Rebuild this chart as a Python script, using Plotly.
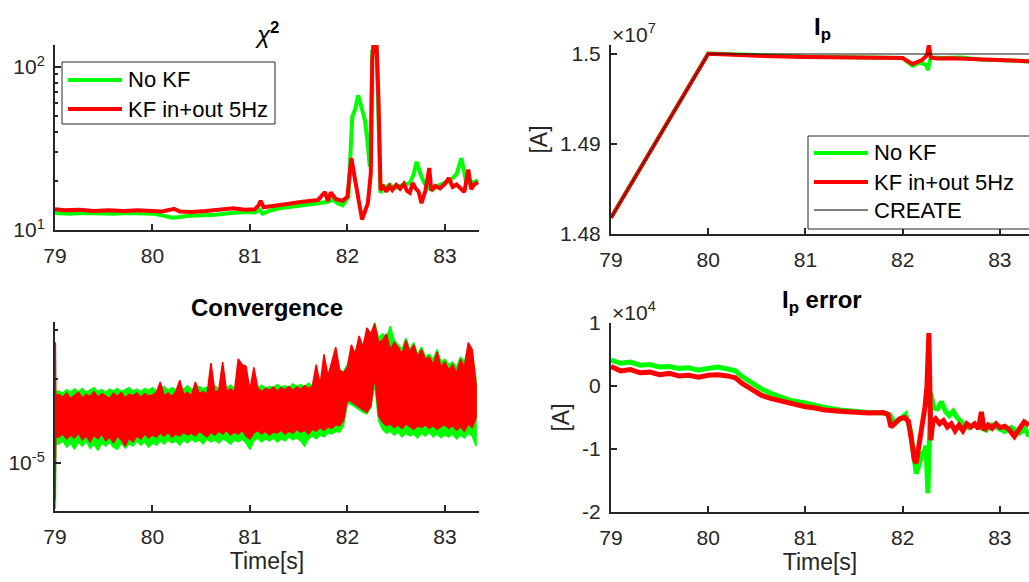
import numpy as np
import plotly.graph_objects as go

# ---------------- data ----------------
# chi^2 (top-left)
chi_t_nokf = [79.00, 79.15, 79.30, 79.45, 79.60, 79.75, 79.90, 80.00, 80.10, 80.20, 80.28, 80.35, 80.50,
              80.65, 80.80, 80.95, 81.05, 81.10, 81.13, 81.20, 81.30, 81.40, 81.50, 81.60, 81.70, 81.80,
              81.85, 81.90, 81.95, 82.01, 82.05, 82.08, 82.11, 82.15, 82.18, 82.21, 82.23, 82.245, 82.255,
              82.30, 82.33, 82.34, 82.37, 82.40, 82.44, 82.48, 82.53, 82.58, 82.64, 82.68, 82.71, 82.75,
              82.79, 82.83, 82.87, 82.92, 82.97, 83.03, 83.08, 83.12, 83.17, 83.20, 83.22, 83.26, 83.30, 83.34]
chi_nokf = [12.7, 12.6, 12.7, 12.6, 12.6, 12.7, 12.6, 12.6, 12.3, 11.9, 12.0, 12.2, 12.3,
            12.4, 12.7, 12.9, 12.8, 13.3, 12.6, 13.1, 13.6, 13.8, 14.0, 14.3, 14.6, 14.9,
            15.4, 14.6, 14.2, 16.0, 49.5, 55.0, 67.0, 55.0, 47.0, 33.0, 24.4, 60.0, 125.0,
            128.0, 30.0, 16.9, 18.6, 18.4, 18.9, 18.0, 18.6, 18.9, 19.4, 22.0, 26.2, 22.0,
            19.4, 18.2, 17.6, 18.6, 19.2, 19.8, 20.8, 22.0, 27.6, 22.0, 19.4, 19.8, 19.6, 20.2]
chi_t_kf = [79.00, 79.10, 79.25, 79.40, 79.55, 79.70, 79.85, 80.00, 80.10, 80.18, 80.22, 80.28, 80.40,
            80.55, 80.70, 80.83, 80.95, 81.05, 81.09, 81.11, 81.14, 81.20, 81.30, 81.40, 81.50, 81.60,
            81.70, 81.77, 81.80, 81.83, 81.88, 81.95, 82.00, 82.04, 82.07, 82.10, 82.15, 82.21, 82.24,
            82.255, 82.265, 82.30, 82.32, 82.34, 82.37, 82.40, 82.43, 82.46, 82.50, 82.54, 82.58, 82.61,
            82.64, 82.67, 82.70, 82.73, 82.76, 82.80, 82.84, 82.86, 82.90, 82.95, 83.00, 83.04, 83.08,
            83.12, 83.16, 83.20, 83.24, 83.27, 83.30, 83.34]
chi_kf = [13.4, 13.2, 13.3, 13.1, 13.2, 13.1, 13.2, 13.1, 13.0, 13.3, 13.5, 13.0, 12.9,
          13.1, 13.3, 13.6, 13.3, 13.4, 14.2, 15.1, 13.8, 14.0, 14.3, 14.5, 14.8, 15.0,
          15.3, 17.1, 15.1, 17.0, 15.5, 15.1, 16.0, 27.6, 22.0, 17.6, 11.6, 14.6, 22.3,
          110.0, 133.0, 133.0, 60.0, 17.6, 18.4, 17.2, 18.6, 17.6, 18.9, 17.9, 19.2, 17.4,
          16.9, 19.4, 18.0, 17.2, 14.6, 17.4, 24.0, 17.5, 18.6, 18.0, 19.2, 20.8, 18.4,
          19.0, 18.0, 17.1, 23.5, 17.8, 19.0, 19.6]

# Ip (top-right), in units of 1e7 A
ip_t_nokf = [79.00, 80.00, 80.10, 80.30, 80.50, 80.70, 81.00, 81.30, 81.60, 81.90, 82.00, 82.10,
             82.18, 82.24, 82.26, 82.28, 82.30, 82.40, 82.60, 82.80, 83.00, 83.20, 83.30]
ip_nokf = [1.4818, 1.50005, 1.50004, 1.49995, 1.49985, 1.49978, 1.49970, 1.49967, 1.49966, 1.49963,
           1.49955, 1.49870, 1.49905, 1.49880, 1.49822, 1.49930, 1.49960, 1.49955, 1.49960, 1.49940,
           1.49935, 1.49925, 1.49915]
ip_t_kf = [79.00, 80.00, 80.20, 80.50, 81.00, 81.50, 81.90, 82.00, 82.10, 82.20, 82.25, 82.27,
           82.29, 82.35, 82.50, 82.70, 82.90, 83.10, 83.30]
ip_kf = [1.4818, 1.50002, 1.49995, 1.49980, 1.49968, 1.49965, 1.49962, 1.49955, 1.49889, 1.49933,
         1.49985, 1.50100, 1.49960, 1.49950, 1.49952, 1.49945, 1.49935, 1.49930, 1.49920]
ip_t_create = [79.00, 80.00, 83.40]
ip_create = [1.4818, 1.5000, 1.5000]

# Convergence (bottom-left): upper / lower envelopes of the noisy traces, in units of 1e-5
conv_t = np.concatenate([[79.000, 79.004, 79.008], np.round(np.arange(79.04, 83.335, 0.04), 2)])
conv_nokf_hi = [1.80, 1.80, 1.80,
    1.81, 1.78, 1.83, 1.79, 1.84, 1.80, 1.85, 1.79, 1.82, 1.86, 1.80, 1.83, 1.79, 1.84, 1.81, 1.85, 1.80, 1.83,
    1.86, 1.81, 1.84, 1.80, 1.85, 1.82, 1.86, 1.81, 1.84, 1.88, 1.82, 1.86, 1.83, 1.87, 1.84, 1.89, 1.83, 1.86,
    1.88, 1.84, 1.87, 1.85, 1.89, 1.84, 1.88, 1.86, 1.90, 1.85, 1.88, 1.86, 1.89, 1.84, 1.88, 1.86, 1.90, 1.85,
    1.88, 1.86, 1.91, 1.87, 1.89, 1.86, 1.92, 1.88, 1.91, 1.87, 1.93, 1.89, 1.95, 1.93, 2.00, 1.97, 2.05, 2.10,
    2.15, 2.12, 2.25, 2.55, 2.50, 2.75, 2.65, 2.95, 2.85, 3.18, 2.80, 2.90, 2.80, 3.09, 2.75, 2.65, 2.55, 2.80,
    2.55, 2.70, 2.45, 2.60, 2.40, 2.45, 2.35, 2.55, 2.30, 2.35, 2.25, 2.30, 2.20, 2.40, 2.30, 2.60, 2.50, 2.00]
conv_nokf_lo = [0.69, 0.69, 1.17,
    1.17, 1.20, 1.14, 1.18, 1.12, 1.19, 1.15, 1.20, 1.13, 1.17, 1.11, 1.18, 1.15, 1.19, 1.14, 1.12, 1.18, 1.13,
    1.17, 1.15, 1.20, 1.16, 1.19, 1.14, 1.18, 1.16, 1.20, 1.17, 1.21, 1.18, 1.20, 1.16, 1.21, 1.18, 1.22, 1.19,
    1.21, 1.17, 1.22, 1.19, 1.21, 1.18, 1.22, 1.20, 1.17, 1.21, 1.19, 1.22, 1.18, 1.12, 1.20, 1.23, 1.19, 1.22,
    1.20, 1.23, 1.19, 1.22, 1.20, 1.24, 1.21, 1.23, 1.20, 1.15, 1.22, 1.25, 1.22, 1.26, 1.24, 1.28, 1.27, 1.30,
    1.29, 1.36, 1.64, 1.62, 1.58, 1.55, 1.52, 1.50, 1.58, 1.93, 1.42, 1.32, 1.28, 1.30, 1.26, 1.29, 1.24, 1.28,
    1.25, 1.27, 1.23, 1.28, 1.25, 1.29, 1.24, 1.27, 1.23, 1.26, 1.24, 1.27, 1.22, 1.26, 1.23, 1.28, 1.25, 1.15]
conv_kf_hi = [2.69, 2.69, 1.75,
    1.76, 1.72, 1.78, 1.70, 1.75, 1.79, 1.71, 1.76, 1.73, 1.80, 1.72, 1.77, 1.74, 1.70, 1.78, 1.73, 1.79, 1.71,
    1.76, 1.74, 1.78, 1.72, 1.77, 1.74, 1.75, 1.79, 1.95, 1.74, 1.78, 1.73, 1.80, 1.98, 1.76, 1.79, 1.74, 1.95,
    1.77, 1.80, 1.76, 2.28, 1.79, 1.82, 2.30, 1.80, 1.84, 1.79, 2.36, 2.25, 2.22, 1.82, 2.20, 1.86, 1.80, 1.85,
    1.82, 1.87, 1.81, 1.86, 1.83, 1.88, 1.82, 1.87, 1.84, 1.89, 1.85, 1.88, 2.25, 1.90, 2.45, 2.05, 2.30, 2.60,
    2.15, 2.10, 2.20, 2.65, 2.45, 2.85, 2.60, 3.05, 2.90, 3.15, 2.70, 2.75, 2.90, 2.55, 2.70, 2.60, 2.45, 2.75,
    2.50, 2.65, 2.40, 2.55, 2.35, 2.40, 2.25, 2.50, 2.20, 2.30, 2.15, 2.25, 2.10, 2.35, 2.20, 2.70, 2.55, 1.90]
conv_kf_lo = [0.74, 0.74, 1.24,
    1.24, 1.27, 1.22, 1.26, 1.23, 1.28, 1.21, 1.25, 1.19, 1.26, 1.22, 1.27, 1.20, 1.24, 1.18, 1.25, 1.21, 1.15,
    1.23, 1.19, 1.25, 1.22, 1.27, 1.23, 1.26, 1.24, 1.28, 1.25, 1.29, 1.24, 1.27, 1.25, 1.29, 1.26, 1.28, 1.25,
    1.30, 1.27, 1.24, 1.29, 1.26, 1.30, 1.27, 1.31, 1.26, 1.29, 1.27, 1.31, 1.25, 1.22, 1.28, 1.31, 1.27, 1.30,
    1.26, 1.29, 1.28, 1.31, 1.27, 1.30, 1.28, 1.32, 1.29, 1.31, 1.27, 1.32, 1.30, 1.34, 1.31, 1.35, 1.33, 1.37,
    1.36, 1.42, 1.68, 1.66, 1.62, 1.58, 1.55, 1.52, 1.60, 2.05, 1.48, 1.40, 1.36, 1.38, 1.34, 1.37, 1.33, 1.38,
    1.35, 1.32, 1.36, 1.34, 1.37, 1.33, 1.36, 1.32, 1.35, 1.37, 1.33, 1.36, 1.31, 1.35, 1.30, 1.38, 1.34, 1.45]

# Ip error (bottom-right), in units of 1e4 A
err_t_nokf = [79.00, 79.10, 79.20, 79.30, 79.40, 79.50, 79.60, 79.70, 79.80, 79.90, 80.00, 80.10,
              80.20, 80.28, 80.35, 80.45, 80.55, 80.65, 80.75, 80.85, 81.00, 81.10, 81.20, 81.35,
              81.50, 81.65, 81.80, 81.87, 81.92, 81.97, 82.03, 82.08, 82.12, 82.14, 82.17, 82.20,
              82.22, 82.24, 82.26, 82.28, 82.29, 82.32, 82.36, 82.40, 82.44, 82.48, 82.52, 82.56,
              82.62, 82.68, 82.74, 82.80, 82.86, 82.92, 82.98, 83.05, 83.12, 83.20, 83.26, 83.30]
err_nokf = [0.41, 0.36, 0.38, 0.33, 0.34, 0.30, 0.31, 0.28, 0.29, 0.25, 0.28, 0.30,
            0.27, 0.24, 0.15, 0.05, -0.05, -0.12, -0.17, -0.23, -0.27, -0.31, -0.34, -0.38,
            -0.41, -0.42, -0.43, -0.46, -0.60, -0.52, -0.45, -0.70, -1.20, -1.39, -1.25, -1.07,
            -1.05, -0.95, -1.70, -0.60, -0.11, -0.35, -0.36, -0.25, -0.40, -0.47, -0.40, -0.50,
            -0.60, -0.66, -0.62, -0.66, -0.70, -0.62, -0.66, -0.72, -0.66, -0.75, -0.68, -0.80]
err_t_kf = [79.00, 79.10, 79.20, 79.30, 79.40, 79.50, 79.60, 79.70, 79.80, 79.90, 80.00, 80.10,
            80.20, 80.28, 80.35, 80.45, 80.55, 80.65, 80.75, 80.85, 81.00, 81.10, 81.20, 81.35,
            81.50, 81.65, 81.80, 81.85, 81.88, 81.92, 81.97, 82.02, 82.06, 82.10, 82.12, 82.14,
            82.17, 82.20, 82.23, 82.25, 82.27, 82.29, 82.31, 82.34, 82.38, 82.42, 82.46, 82.50,
            82.54, 82.58, 82.62, 82.66, 82.70, 82.74, 82.78, 82.81, 82.84, 82.88, 82.92, 82.96,
            83.00, 83.05, 83.10, 83.15, 83.20, 83.25, 83.30]
err_kf = [0.31, 0.24, 0.26, 0.21, 0.22, 0.18, 0.20, 0.16, 0.17, 0.14, 0.17, 0.18,
          0.16, 0.13, 0.04, -0.06, -0.15, -0.20, -0.24, -0.29, -0.33, -0.35, -0.38, -0.40,
          -0.42, -0.43, -0.42, -0.45, -0.65, -0.58, -0.52, -0.50, -0.56, -0.95, -1.17, -1.22,
          -0.95, -0.65, -0.33, -0.01, 0.84, -0.86, -0.57, -0.52, -0.60, -0.55, -0.65, -0.60,
          -0.71, -0.62, -0.71, -0.60, -0.65, -0.60, -0.68, -0.41, -0.70, -0.62, -0.67, -0.60,
          -0.66, -0.64, -0.70, -0.80, -0.70, -0.57, -0.62]

legend_names = ["No KF", "KF in+out 5Hz", "CREATE"]
GREEN = "#00FF00"
RED = "#FF0000"
AX = "#262626"
FONT = "Liberation Sans, Arial, Helvetica, sans-serif"
FS = 21      # tick labels
FL = 23      # axis labels
FT = 24      # titles
FG = 22      # legend

# ---------------- figure ----------------
fig = go.Figure()
LW = 4

fig.add_trace(go.Scatter(x=chi_t_nokf, y=chi_nokf, mode="lines", line=dict(color=GREEN, width=LW),
                         name=legend_names[0], xaxis="x", yaxis="y"))
fig.add_trace(go.Scatter(x=chi_t_kf, y=chi_kf, mode="lines", line=dict(color=RED, width=LW),
                         name=legend_names[1], xaxis="x", yaxis="y"))

fig.add_trace(go.Scatter(x=ip_t_nokf, y=ip_nokf, mode="lines", line=dict(color=GREEN, width=LW),
                         name=legend_names[0], xaxis="x2", yaxis="y2"))
fig.add_trace(go.Scatter(x=ip_t_kf, y=ip_kf, mode="lines", line=dict(color=RED, width=LW),
                         name=legend_names[1], xaxis="x2", yaxis="y2"))
fig.add_trace(go.Scatter(x=ip_t_create, y=ip_create, mode="lines", line=dict(color="#111111", width=1),
                         name=legend_names[2], xaxis="x2", yaxis="y2"))

conv_scale = 1e-5
def band(t, hi, lo, color, name):
    xs = list(t) + list(t)[::-1]
    ys = [v * conv_scale for v in hi] + [v * conv_scale for v in lo][::-1]
    return go.Scatter(x=xs, y=ys, mode="lines", fill="toself", fillcolor=color,
                      line=dict(color=color, width=1.5), name=name, xaxis="x3", yaxis="y3")

fig.add_trace(band(conv_t, conv_nokf_hi, conv_nokf_lo, GREEN, legend_names[0]))
fig.add_trace(band(conv_t, conv_kf_hi, conv_kf_lo, RED, legend_names[1]))

fig.add_trace(go.Scatter(x=err_t_nokf, y=err_nokf, mode="lines", line=dict(color=GREEN, width=5),
                         name=legend_names[0], xaxis="x4", yaxis="y4"))
fig.add_trace(go.Scatter(x=err_t_kf, y=err_kf, mode="lines", line=dict(color=RED, width=5),
                         name=legend_names[1], xaxis="x4", yaxis="y4"))

W, H = 1029, 582
def px_x(p):
    return p / W
def px_y(p):
    return 1 - p / H

def base_axis(**kw):
    d = dict(showline=True, linecolor=AX, linewidth=2, ticks="inside", ticklen=6, tickwidth=2,
             tickcolor=AX, showgrid=False, zeroline=False, mirror=False, automargin=False,
             ticklabelstandoff=6, tickfont=dict(family=FONT, size=FS, color=AX))
    d.update(kw)
    return d

xt = [79, 80, 81, 82, 83]
xlab = ["79", "80", "81", "82", "83"]
L_DOM = [px_x(55), px_x(479)]
R_DOM = [px_x(611), 1.0]
lab = dict(family=FONT, size=FL, color=AX)

fig.update_layout(
    width=W, height=H,
    margin=dict(l=0, r=0, t=0, b=0, autoexpand=False),
    paper_bgcolor="white", plot_bgcolor="white",
    font=dict(family=FONT, size=FS, color=AX),
    showlegend=False,
    xaxis=base_axis(domain=L_DOM, anchor="y", range=[79, 83.35], tickvals=xt, ticktext=xlab),
    yaxis=base_axis(domain=[px_y(230), px_y(45)], anchor="x", type="log", range=[1, 2.135],
                    tickvals=[10, 100], ticktext=["10<sup>1</sup>", "10<sup>2</sup>"], ticklabelstandoff=4,
                    minor=dict(ticks="inside", ticklen=3, tickwidth=2, tickcolor=AX,
                               tickvals=[20, 30, 40, 50, 60, 70, 80, 90])),
    xaxis2=base_axis(domain=R_DOM, anchor="y2", range=[79, 83.3], tickvals=xt, ticktext=xlab),
    yaxis2=base_axis(domain=[px_y(234), px_y(45)], anchor="x2", range=[1.48, 1.501],
                     tickvals=[1.48, 1.49, 1.5], ticktext=["1.48", "1.49", "1.5"], ticklabelstandoff=4,
                     title=dict(text="[A]", font=lab, standoff=6)),
    xaxis3=base_axis(domain=L_DOM, anchor="y3", range=[79, 83.35], tickvals=xt, ticktext=xlab,
                     title=dict(text="Time[s]", font=lab, standoff=4)),
    yaxis3=base_axis(domain=[px_y(511), px_y(322)], anchor="x3", type="log", range=[-5.172, -4.495],
                     tickvals=[1e-5], ticktext=["10<sup>-5</sup>"], ticklabelstandoff=4,
                     minor=dict(ticks="inside", ticklen=3, tickwidth=2, tickcolor=AX,
                                tickvals=[2e-5, 3e-5])),
    xaxis4=base_axis(domain=R_DOM, anchor="y4", range=[79, 83.3], tickvals=xt, ticktext=xlab,
                     title=dict(text="Time[s]", font=lab, standoff=4)),
    yaxis4=base_axis(domain=[px_y(512), px_y(323)], anchor="x4", range=[-2, 1],
                     tickvals=[-2, -1, 0, 1], ticktext=["-2", "-1", "0", "1"], ticklabelstandoff=4,
                     title=dict(text="[A]", font=lab, standoff=6)),
)

# titles
ann = [
    dict(text="<i>χ</i><sup><b>2</b></sup>", x=267, y=33),
    dict(text="<b>I<sub>p</sub></b>", x=822, y=28),
    dict(text="<b>Convergence</b>", x=267, y=307),
    dict(text="<b>I<sub>p</sub> error</b>", x=822, y=301),
]
for a in ann:
    fig.add_annotation(xref="paper", yref="paper", showarrow=False, xanchor="center", yanchor="middle",
                       x=px_x(a["x"]), y=px_y(a["y"]), text=a["text"],
                       font=dict(family=FONT, size=FT, color="#000"))
fig.add_annotation(xref="paper", yref="paper", showarrow=False, xanchor="left", yanchor="middle",
                   x=px_x(610), y=px_y(33), text="×10<sup>7</sup>", font=dict(family=FONT, size=FS, color=AX))
fig.add_annotation(xref="paper", yref="paper", showarrow=False, xanchor="left", yanchor="middle",
                   x=px_x(610), y=px_y(311), text="×10<sup>4</sup>", font=dict(family=FONT, size=FS, color=AX))

# legends (MATLAB-style boxes)
def legend_box(x0, y0, x1, y1, entries):
    fig.add_shape(type="rect", xref="paper", yref="paper", x0=px_x(x0), x1=px_x(x1), y0=px_y(y1), y1=px_y(y0),
                  line=dict(color=AX, width=1), fillcolor="white", layer="above")
    for (ly, color, width, text) in entries:
        fig.add_shape(type="line", xref="paper", yref="paper", x0=px_x(x0 + 6), x1=px_x(x0 + 60),
                      y0=px_y(ly), y1=px_y(ly), line=dict(color=color, width=width), layer="above")
        fig.add_annotation(xref="paper", yref="paper", showarrow=False, xanchor="left", yanchor="middle",
                           x=px_x(x0 + 64), y=px_y(ly), text=text, font=dict(family=FONT, size=FG, color="#000"))

legend_box(62, 62, 275, 124, [(80, GREEN, 4, legend_names[0]), (109, RED, 4, legend_names[1])])
legend_box(808, 136, 1040, 229, [(153, GREEN, 4, legend_names[0]), (182, RED, 4, legend_names[1]),
                                 (210, "#000000", 1, legend_names[2])])

fig.write_html("out.html", config={"displayModeBar": False},
               post_script="document.body.style.margin='0px';document.body.style.overflow='hidden';")
